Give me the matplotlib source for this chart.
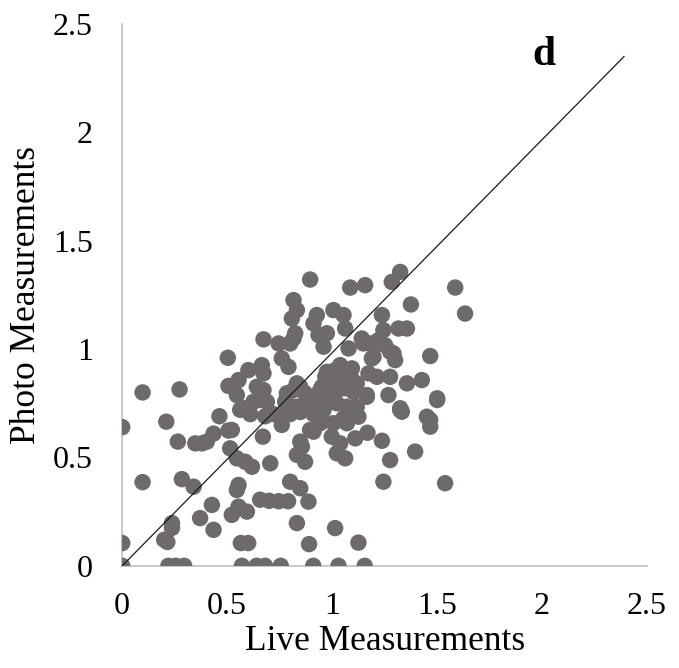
import matplotlib
matplotlib.use("Agg")
import matplotlib.pyplot as plt

live = [
    0, 0.22, 0.255, 0.295, 0.57, 0.64, 0.68, 0.755, 0.91, 1.03, 1.155,
    0, 0.2, 0.215, 0.565, 0.6, 0.89, 1.125,
    0.237, 0.237, 0.435, 0.371, 0.427,
    0.522, 0.554, 0.594,
    0.657, 0.7, 0.745, 0.79, 0.887,
    0.832, 1.014,
    0.097, 0.284, 0.34, 0.554, 0.546,
    0.8, 0.848,
    1.244, 1.538,
    0.514, 0.546, 0.586, 0.618, 0.705, 0.67,
    0.848, 0.832, 0.871, 0.895, 0.856,
    0.911, 0.943, 0.998, 1.038, 1.022, 1.062, 1.006, 1.07,
    1.054, 1.125, 1.11, 1.168, 1.237, 1.276, 1.395,
    1.467, 1.467, 1.5, 1.332, 1.324, 1.11,
    0, 0.21, 0.265, 0.348, 0.38, 0.403, 0.435, 0.463, 0.506, 0.562, 0.522,
    0.76, 0.61, 0.681, 0.72, 0.752, 0.8, 0.848, 0.911, 0.951,
    0.097, 0.273,
    0.503, 0.506, 0.554, 0.601, 0.665, 0.673,
    0.673, 0.745, 0.816, 0.808, 0.832, 0.76, 0.792, 0.816,
    0.641, 0.673, 0.657, 0.625, 0.689, 0.578, 0.546,
    0.784, 0.816, 0.832, 0.776, 0.848, 0.784, 0.832, 0.879,
    0.871, 0.911, 0.943, 0.99,
    0.895, 1.086, 1.157, 1.284, 1.324, 1.586, 1.633, 1.375,
    0.927, 0.911, 1.006, 1.054, 1.062, 1.237,
    1.244, 1.316, 1.356,
    0.824, 0.8, 0.935, 0.975, 0.959, 1.078,
    1.141, 1.181, 1.22, 1.252, 1.276, 1.3, 1.197, 1.467, 1.149, 1.213,
    0.967, 1.014, 1.062, 1.094,
    1.173, 1.213, 1.276, 1.356, 1.427, 1.5, 1.268, 1.324, 1.451,
    0.943, 0.983, 1.022, 1.07, 1.117, 1.022, 1.07, 1.117, 1.165, 0.911, 0.959,
    1.038, 1.086, 0.975, 1.022, 1.054, 0.951,
    1.101, 1.165, 1.292, 1.189,
]

photo = [
    0, 0, 0, 0, 0, 0, 0, 0, 0, 0, 0,
    0.105, 0.12, 0.11, 0.105, 0.105, 0.1, 0.107,
    0.197, 0.175, 0.166, 0.22, 0.281,
    0.235, 0.273, 0.25,
    0.305, 0.3, 0.298, 0.298, 0.296,
    0.197, 0.174,
    0.386, 0.4, 0.365, 0.373, 0.35,
    0.388, 0.358,
    0.388, 0.381,
    0.542, 0.496, 0.48, 0.457, 0.473, 0.596,
    0.573, 0.512, 0.48, 0.627, 0.55,
    0.619, 0.658, 0.596, 0.565, 0.519, 0.496, 0.658, 0.658,
    0.681, 0.688, 0.588, 0.614, 0.577, 0.488, 0.527,
    0.673, 0.642, 0.765, 0.711, 0.727, 0.711,
    0.64, 0.665, 0.573, 0.565, 0.565, 0.573, 0.61, 0.69, 0.624, 0.72, 0.627,
    0.65, 0.7, 0.69, 0.7, 0.69, 0.7, 0.71, 0.7, 0.71,
    0.8, 0.814,
    0.96, 0.83, 0.857, 0.903, 0.926, 0.888,
    1.045, 1.026, 1.226, 1.141, 1.18, 0.957, 0.918, 1.049,
    0.826, 0.811, 0.765, 0.757, 0.757, 0.727, 0.788,
    0.796, 0.811, 0.842, 0.757, 0.826, 0.75, 0.734, 0.765,
    0.796, 0.773, 0.727, 0.757,
    1.321, 1.284, 1.295, 1.31, 1.356, 1.284, 1.164, 1.206,
    1.157, 1.118, 1.18, 1.157, 1.095, 1.157,
    1.088, 1.095, 1.095,
    1.073, 1.026, 1.065, 1.073, 1.011, 1.003,
    1.049, 1.026, 1.041, 1.018, 0.988, 0.949, 0.964, 0.968, 1.026, 1.026,
    0.872, 0.903, 0.903, 0.911,
    0.888, 0.872, 0.872, 0.842, 0.857, 0.773, 0.788, 0.719, 0.688,
    0.811, 0.78, 0.811, 0.826, 0.842, 0.75, 0.734, 0.734, 0.78, 0.734, 0.719,
    0.926, 0.88, 0.895, 0.842, 0.819, 0.826,
    0.803, 0.788, 0.98, 0.957,
]

line_x = [0, 2.39]
line_y = [0, 2.35]
ticks = [0, 0.5, 1, 1.5, 2, 2.5]
tick_labels = ["0", "0.5", "1", "1.5", "2", "2.5"]

plt.rcParams['font.family'] = ['Liberation Serif', 'DejaVu Serif']

fig = plt.figure(figsize=(6.79, 6.68), dpi=100)
ax = fig.add_axes([0.18, 0.153, 0.773, 0.811])

ax.scatter(live, photo, s=140, color='#6e6a6b', edgecolors='none', zorder=2)
ax.plot(line_x, line_y, color='#1a1a1a', linewidth=0.9, zorder=3)

ax.set_xlim(0, 2.5)
ax.set_ylim(0, 2.5)
ax.set_xticks(ticks)
ax.set_xticklabels(tick_labels)
ax.set_yticks(ticks)
ax.set_yticklabels(tick_labels)
ax.tick_params(axis='both', length=0, labelsize=23)
ax.tick_params(axis='x', pad=19)
ax.tick_params(axis='y', pad=21)

for s in ['top', 'right']:
    ax.spines[s].set_visible(False)
for s in ['left', 'bottom']:
    ax.spines[s].set_color('#bfbfbf')
    ax.spines[s].set_linewidth(1.2)
    ax.spines[s].set_zorder(1)

ax.set_xlabel('Live Measurements', fontsize=25.5, labelpad=3)
ax.set_ylabel('Photo Measurements', fontsize=25.5, labelpad=7)
ax.text(2.01, 2.355, 'd', fontsize=30, fontweight='bold', ha='center', va='center')

fig.savefig('out.png', dpi=100)
